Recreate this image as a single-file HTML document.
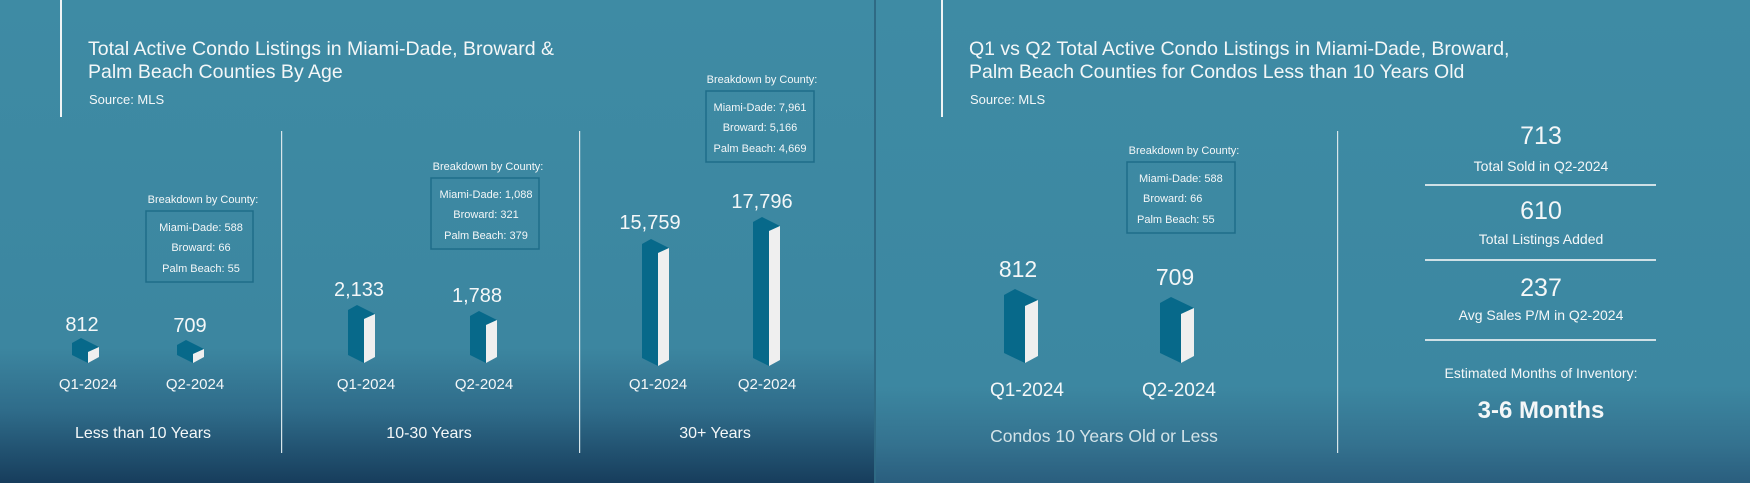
<!DOCTYPE html>
<html><head><meta charset="utf-8"><style>
html,body{margin:0;padding:0;width:1750px;height:483px;overflow:hidden;background:#3e8aa3}
svg{display:block}
text{font-family:"Liberation Sans",sans-serif;fill:#f4f7f8}
</style></head><body>
<svg width="1750" height="483" viewBox="0 0 1750 483">
<defs>
<linearGradient id="gl" x1="0" y1="0" x2="0" y2="1">
<stop offset="0" stop-color="#3e8ba4"/><stop offset="0.72" stop-color="#3c86a0"/><stop offset="0.85" stop-color="#2f6c8a"/><stop offset="1" stop-color="#173d5c"/>
</linearGradient>
<linearGradient id="gr" x1="0" y1="0" x2="0" y2="1">
<stop offset="0" stop-color="#3e8ba4"/><stop offset="0.8" stop-color="#3c87a1"/><stop offset="0.92" stop-color="#34728f"/><stop offset="1" stop-color="#2a5e7e"/>
</linearGradient>
</defs>
<rect x="0" y="0" width="875" height="483" fill="url(#gl)"/>
<rect x="876" y="0" width="874" height="483" fill="url(#gr)"/>
<rect x="874" y="0" width="2" height="483" fill="#2f6a84"/>

<!-- LEFT PANEL -->
<rect x="60" y="0" width="2" height="117" fill="#f0f4f5"/>
<text x="88" y="55" font-size="19.5">Total Active Condo Listings in Miami-Dade, Broward &amp;</text>
<text x="88" y="78" font-size="19.5">Palm Beach Counties By Age</text>
<text x="89" y="104" font-size="13">Source: MLS</text>
<rect x="281" y="131" width="1.2" height="322" fill="#d8e6ea"/>
<rect x="579" y="131" width="1.2" height="322" fill="#d8e6ea"/>

<g font-size="11" text-anchor="middle">
<text x="203" y="203">Breakdown by County:</text>
<text x="201" y="231">Miami-Dade: 588</text><text x="201" y="251">Broward: 66</text><text x="201" y="272">Palm Beach: 55</text>
<text x="488" y="170">Breakdown by County:</text>
<text x="486" y="198">Miami-Dade: 1,088</text><text x="486" y="218">Broward: 321</text><text x="486" y="239">Palm Beach: 379</text>
<text x="762" y="83">Breakdown by County:</text>
<text x="760" y="111">Miami-Dade: 7,961</text><text x="760" y="131">Broward: 5,166</text><text x="760" y="152">Palm Beach: 4,669</text>
<text x="1184" y="154">Breakdown by County:</text>
</g>
<g fill="none" stroke="#1e6d89" stroke-width="1.5">
<rect x="146" y="211" width="107" height="71"/>
<rect x="431" y="178" width="108" height="71"/>
<rect x="706" y="91" width="108" height="71"/>
<rect x="1127" y="162" width="108" height="71"/>
</g>
<g font-size="11" text-anchor="start">
<text x="1139" y="182">Miami-Dade: 588</text><text x="1143" y="202">Broward: 66</text><text x="1137" y="223">Palm Beach: 55</text>
</g>

<g font-size="20" text-anchor="middle">
<text x="82" y="331">812</text><text x="190" y="332">709</text>
<text x="359" y="296">2,133</text><text x="477" y="302">1,788</text>
<text x="650" y="229">15,759</text><text x="762" y="208">17,796</text>
</g>
<g font-size="15" text-anchor="middle">
<text x="88" y="389">Q1-2024</text><text x="195" y="389">Q2-2024</text>
<text x="366" y="389">Q1-2024</text><text x="484" y="389">Q2-2024</text>
<text x="658" y="389">Q1-2024</text><text x="767" y="389">Q2-2024</text>
</g>
<g font-size="16" text-anchor="middle" style="fill:#d3e3e8">
<text x="143" y="438">Less than 10 Years</text>
<text x="429" y="438">10-30 Years</text>
<text x="715" y="438">30+ Years</text>
</g>

<g fill="#07698a">
<polygon points="72,343 81,338 99,347 88,352 88,363 72,355"/>
<polygon points="177,345 186,340 204,349 193,354 193,363 177,355"/>
<polygon points="348,310 357,305 375,314 364,319 364,363 348,355"/>
<polygon points="470,316 479,311 497,320 486,325 486,363 470,355"/>
<polygon points="642,244 651,239 669,248 658,253 658,366 642,358"/>
<polygon points="753,222 762,217 780,226 769,231 769,366 753,358"/>
<polygon points="1004,295 1015,289 1038,300 1025,306 1025,363 1004,353"/>
<polygon points="1160,303 1171,297 1194,308 1181,314 1181,363 1160,353"/>
</g>
<g fill="#efefef">
<polygon points="88,352 99,347 99,357 88,363"/>
<polygon points="193,354 204,349 204,357 193,363"/>
<polygon points="364,319 375,314 375,357 364,363"/>
<polygon points="486,325 497,320 497,357 486,363"/>
<polygon points="658,253 669,248 669,360 658,366"/>
<polygon points="769,231 780,226 780,360 769,366"/>
<polygon points="1025,306 1038,300 1038,356 1025,363"/>
<polygon points="1181,314 1194,308 1194,356 1181,363"/>
</g>

<!-- RIGHT PANEL -->
<rect x="941" y="0" width="2" height="117" fill="#f0f4f5"/>
<text x="969" y="55" font-size="19.5">Q1 vs Q2 Total Active Condo Listings in Miami-Dade, Broward,</text>
<text x="969" y="78" font-size="19.5">Palm Beach Counties for Condos Less than 10 Years Old</text>
<text x="970" y="104" font-size="13">Source: MLS</text>
<rect x="1337" y="131" width="1.2" height="322" fill="#d8e6ea"/>

<g font-size="23" text-anchor="middle">
<text x="1018" y="277">812</text><text x="1175" y="285">709</text>
</g>
<g font-size="19" text-anchor="middle">
<text x="1027" y="396">Q1-2024</text><text x="1179" y="396">Q2-2024</text>
</g>
<text x="1104" y="442" font-size="17.5" text-anchor="middle" style="fill:#d3e3e8">Condos 10 Years Old or Less</text>

<g text-anchor="middle">
<text x="1541" y="144" font-size="25">713</text>
<text x="1541" y="171" font-size="14">Total Sold in Q2-2024</text>
<rect x="1425" y="184" width="231" height="2" fill="#cfe0e6"/>
<text x="1541" y="219" font-size="25">610</text>
<text x="1541" y="244" font-size="14">Total Listings Added</text>
<rect x="1425" y="259" width="231" height="2" fill="#cfe0e6"/>
<text x="1541" y="296" font-size="25">237</text>
<text x="1541" y="320" font-size="14">Avg Sales P/M in Q2-2024</text>
<rect x="1425" y="339" width="231" height="2" fill="#cfe0e6"/>
<text x="1541" y="378" font-size="14">Estimated Months of Inventory:</text>
<text x="1541" y="418" font-size="24" font-weight="bold">3-6 Months</text>
</g>
</svg>
</body></html>
